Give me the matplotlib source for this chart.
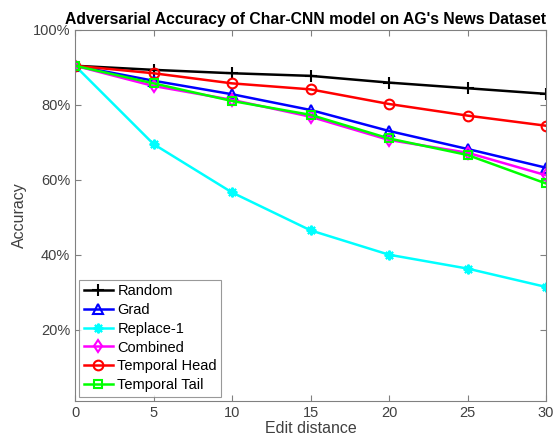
import matplotlib.pyplot as plt
from matplotlib.ticker import PercentFormatter

plt.rcParams['font.family'] = ['Liberation Sans', 'DejaVu Sans']

# edit distances and accuracies
edit_dist = [0, 5, 10, 15, 20, 25, 30]
random_acc = [0.904, 0.893, 0.884, 0.877, 0.859, 0.844, 0.829]
grad_acc = [0.904, 0.864, 0.828, 0.786, 0.730, 0.682, 0.632]
replace1_acc = [0.904, 0.695, 0.566, 0.465, 0.400, 0.363, 0.314]
combined_acc = [0.904, 0.850, 0.813, 0.768, 0.706, 0.672, 0.612]
head_acc = [0.904, 0.884, 0.857, 0.841, 0.802, 0.771, 0.744]
tail_acc = [0.904, 0.857, 0.810, 0.773, 0.710, 0.666, 0.590]

# matlab-style pure colours
series = [
    ('Random', random_acc, (0, 0, 0), '+', 8),
    ('Grad', grad_acc, (0, 0, 1), '^', 7),
    ('Replace-1', replace1_acc, (0, 1, 1), (8, 2, 0), 7),
    ('Combined', combined_acc, (1, 0, 1), 'd', 6.5),
    ('Temporal Head', head_acc, (1, 0, 0), 'o', 7),
    ('Temporal Tail', tail_acc, (0, 1, 0), 's', 6),
]

fig = plt.figure(figsize=(5.56, 4.44), dpi=100)
ax = fig.add_axes([0.135, 0.097, 0.847, 0.836])

for name, vals, col, mk, ms in series:
    ax.plot(edit_dist, vals, color=col, marker=mk, markersize=ms,
            markerfacecolor='none', markeredgewidth=1.5, linewidth=1.8, label=name)

ax.set_xlim(0, 30)
ax.set_ylim(0.01, 1.0)
ax.set_xticks(edit_dist)
ax.set_yticks([0.2, 0.4, 0.6, 0.8, 1.0])
ax.yaxis.set_major_formatter(PercentFormatter(1.0, decimals=0))

gray = '#404040'
for s in ax.spines.values():
    s.set_color('#808080')
ax.tick_params(direction='in', top=True, right=True, colors=gray,
               labelsize=10.5, length=4, color='#808080')
ax.set_xlabel('Edit distance', fontsize=11.5, color=gray, labelpad=1)
ax.set_ylabel('Accuracy', fontsize=11.5, color=gray, labelpad=4)
ax.set_title("Adversarial Accuracy of Char-CNN model on AG's News Dataset",
             fontsize=11.3, fontweight='bold', pad=4, x=0.489)

leg = ax.legend(loc='lower left', fontsize=10.5, frameon=True, fancybox=False,
                borderaxespad=0.3, handlelength=2.0, labelspacing=0.33,
                borderpad=0.3, handletextpad=0.3)
leg.get_frame().set_edgecolor('#808080')
leg.get_frame().set_linewidth(0.8)

fig.savefig('out.png', dpi=100)
